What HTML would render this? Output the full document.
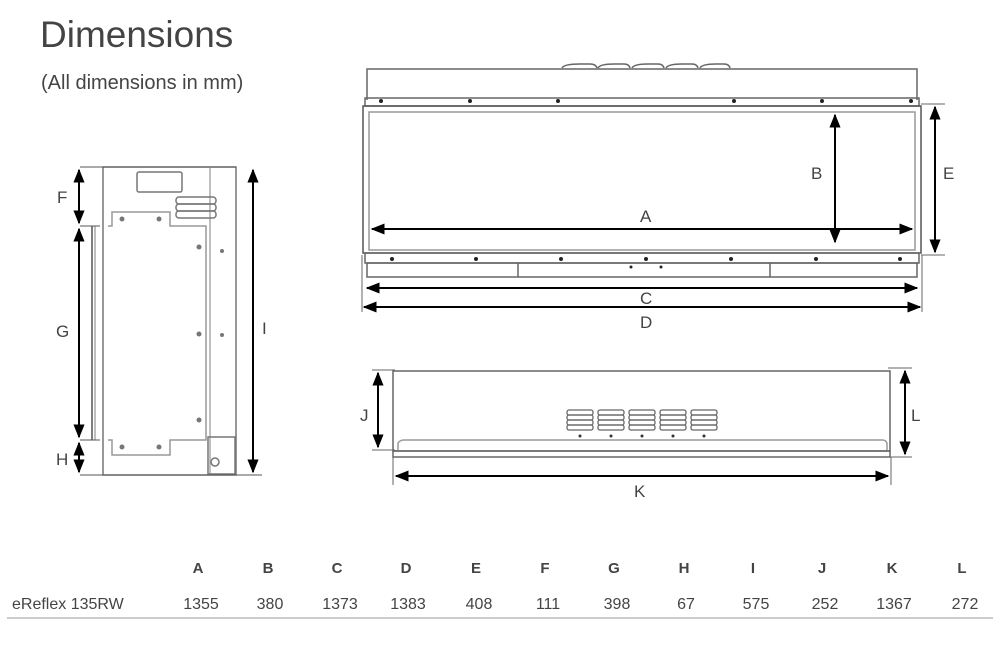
<!DOCTYPE html>
<html><head><meta charset="utf-8"><style>
html,body{margin:0;padding:0;background:#fff;}
svg{display:block}
text{font-family:"Liberation Sans",sans-serif;fill:#444}
</style></head><body>
<svg width="1000" height="651" viewBox="0 0 1000 651" xmlns="http://www.w3.org/2000/svg">
<defs>
<marker id="ar" viewBox="0 0 10 10" refX="9" refY="5" markerWidth="7" markerHeight="7" orient="auto-start-reverse"><path d="M0,1 L10,5 L0,9 z" fill="#000"/></marker>
</defs>
<text x="40" y="47" font-size="37" font-weight="300" fill="#333">Dimensions</text>
<text x="41" y="89" font-size="20" fill="#555">(All dimensions in mm)</text>

<!-- side view -->
<g stroke="#777" fill="none" stroke-width="1.5">
<rect x="103" y="167" width="133" height="308"/>
<line x1="210" y1="167" x2="210" y2="475" stroke="#aaa"/>
<path d="M108,226 L112,226 L112,212 L170,212 L170,226 L206,226 L206,440 L170,440 L170,455 L112,455 L112,440 L108,440" stroke="#999"/>
<line x1="92" y1="226" x2="92" y2="440" stroke="#555"/>
<line x1="95" y1="226" x2="95" y2="440" stroke="#aaa"/>
<rect x="137" y="172" width="45" height="20" rx="2"/>
<rect x="176" y="197" width="40" height="7" rx="3"/>
<rect x="176" y="204" width="40" height="7" rx="3"/>
<rect x="176" y="211" width="40" height="7" rx="3"/>
<rect x="208" y="437" width="27" height="37"/>
<circle cx="215" cy="462" r="4"/>
<line x1="80" y1="167" x2="236" y2="167" stroke="#555" stroke-width="1"/>
<line x1="80" y1="226" x2="100" y2="226" stroke="#555" stroke-width="1"/>
<line x1="80" y1="440" x2="100" y2="440" stroke="#555" stroke-width="1"/>
<line x1="80" y1="475" x2="262" y2="475" stroke="#555" stroke-width="1"/>
</g>
<g fill="#777">
<circle cx="122" cy="219" r="2.5"/><circle cx="159" cy="219" r="2.5"/>
<circle cx="199" cy="247" r="2.5"/><circle cx="222" cy="251" r="2"/>
<circle cx="199" cy="334" r="2.5"/><circle cx="222" cy="335" r="2"/>
<circle cx="199" cy="420" r="2.5"/><circle cx="122" cy="447" r="2.5"/><circle cx="159" cy="447" r="2.5"/>
</g>
<g stroke="#000" stroke-width="2">
<line x1="79" y1="170" x2="79" y2="223" marker-start="url(#ar)" marker-end="url(#ar)"/>
<line x1="79" y1="229" x2="79" y2="437" marker-start="url(#ar)" marker-end="url(#ar)"/>
<line x1="79" y1="443" x2="79" y2="472" marker-start="url(#ar)" marker-end="url(#ar)"/>
<line x1="253" y1="170" x2="253" y2="472" marker-start="url(#ar)" marker-end="url(#ar)"/>
</g>
<g font-size="17"><text x="57" y="203">F</text><text x="56" y="337">G</text><text x="56" y="465">H</text><text x="262" y="334">I</text></g>

<!-- front view -->
<g stroke="#666" fill="none" stroke-width="1.5">
<path d="M367,100 L367,69 L917,69 L917,100"/>
<path d="M562,68 Q564,64 580,64 L590,64 Q596,64 597,68 M598,68 Q600,64 614,64 L624,64 Q629,64 630,68 M632,68 Q634,64 648,64 L658,64 Q663,64 664,68 M666,68 Q668,64 682,64 L692,64 Q697,64 698,68 M700,68 Q702,64 716,64 L724,64 Q729,64 730,68"/>
<rect x="365" y="98" width="554" height="8"/>
<rect x="363" y="106" width="558" height="147" stroke="#555"/>
<rect x="369" y="112" width="546" height="138" stroke="#999"/>
<rect x="365" y="253" width="554" height="10"/>
<rect x="367" y="263" width="550" height="14"/>
<line x1="518" y1="263" x2="518" y2="277"/><line x1="770" y1="263" x2="770" y2="277"/>
<line x1="362" y1="255" x2="362" y2="312" stroke-width="1"/>
<line x1="922" y1="255" x2="922" y2="312" stroke-width="1"/>
<line x1="921" y1="104" x2="945" y2="104" stroke-width="1"/>
<line x1="921" y1="255" x2="945" y2="255" stroke-width="1"/>
</g>
<g fill="#222">
<circle cx="381" cy="101" r="2"/><circle cx="470" cy="101" r="2"/><circle cx="558" cy="101" r="2"/><circle cx="734" cy="101" r="2"/><circle cx="822" cy="101" r="2"/><circle cx="911" cy="101" r="2"/>
<circle cx="392" cy="259" r="2"/><circle cx="476" cy="259" r="2"/><circle cx="561" cy="259" r="2"/><circle cx="646" cy="259" r="2"/><circle cx="731" cy="259" r="2"/><circle cx="816" cy="259" r="2"/><circle cx="900" cy="259" r="2"/>
<circle cx="631" cy="267" r="1.5"/><circle cx="661" cy="267" r="1.5"/>
</g>
<g stroke="#000" stroke-width="2">
<line x1="372" y1="229" x2="912" y2="229" marker-start="url(#ar)" marker-end="url(#ar)"/>
<line x1="835" y1="115" x2="835" y2="242" marker-start="url(#ar)" marker-end="url(#ar)"/>
<line x1="935" y1="107" x2="935" y2="252" marker-start="url(#ar)" marker-end="url(#ar)"/>
<line x1="367" y1="288" x2="917" y2="288" marker-start="url(#ar)" marker-end="url(#ar)"/>
<line x1="364" y1="307" x2="920" y2="307" marker-start="url(#ar)" marker-end="url(#ar)"/>
</g>
<g font-size="17"><text x="640" y="222">A</text><text x="811" y="179">B</text><text x="943" y="179">E</text><text x="640" y="304">C</text><text x="640" y="328">D</text></g>

<!-- bottom view -->
<g stroke="#666" fill="none" stroke-width="1.5">
<rect x="393" y="371" width="497" height="80"/>
<path d="M398,450 L398,443 Q400,440 404,440 L882,440 Q886,440 887,443 L887,450" stroke="#999"/>
<rect x="393" y="451" width="497" height="6"/>
<line x1="372" y1="370" x2="395" y2="370" stroke-width="1"/>
<line x1="372" y1="450" x2="395" y2="450" stroke-width="1"/>
<line x1="888" y1="368" x2="912" y2="368" stroke-width="1"/>
<line x1="888" y1="457" x2="912" y2="457" stroke-width="1"/>
<line x1="393" y1="457" x2="393" y2="485" stroke-width="1"/>
<line x1="891" y1="457" x2="891" y2="485" stroke-width="1"/>
</g>
<g stroke="#666" fill="none" stroke-width="1.3">
<g id="v"><rect x="567" y="410" width="26" height="5" rx="2"/><rect x="567" y="415" width="26" height="5" rx="2"/><rect x="567" y="420" width="26" height="5" rx="2"/><rect x="567" y="425" width="26" height="5" rx="2"/></g>
<use href="#v" x="31"/><use href="#v" x="62"/><use href="#v" x="93"/><use href="#v" x="124"/>
</g>
<g fill="#333"><circle cx="580" cy="436" r="1.5"/><circle cx="611" cy="436" r="1.5"/><circle cx="642" cy="436" r="1.5"/><circle cx="673" cy="436" r="1.5"/><circle cx="704" cy="436" r="1.5"/></g>
<g stroke="#000" stroke-width="2">
<line x1="378" y1="373" x2="378" y2="447" marker-start="url(#ar)" marker-end="url(#ar)"/>
<line x1="905" y1="371" x2="905" y2="454" marker-start="url(#ar)" marker-end="url(#ar)"/>
<line x1="396" y1="476" x2="888" y2="476" marker-start="url(#ar)" marker-end="url(#ar)"/>
</g>
<g font-size="17"><text x="360" y="421">J</text><text x="911" y="421">L</text><text x="634" y="497">K</text></g>

<!-- table -->
<g font-size="15" font-weight="bold" fill="#444" text-anchor="middle">
<text x="198" y="573">A</text><text x="268" y="573">B</text><text x="337" y="573">C</text><text x="406" y="573">D</text><text x="476" y="573">E</text><text x="545" y="573">F</text><text x="614" y="573">G</text><text x="684" y="573">H</text><text x="753" y="573">I</text><text x="822" y="573">J</text><text x="892" y="573">K</text><text x="962" y="573">L</text>
</g>
<g font-size="16" fill="#444" text-anchor="middle">
<text x="12" y="609" text-anchor="start">eReflex 135RW</text>
<text x="201" y="609">1355</text><text x="270" y="609">380</text><text x="340" y="609">1373</text><text x="408" y="609">1383</text><text x="479" y="609">408</text><text x="548" y="609">111</text><text x="617" y="609">398</text><text x="686" y="609">67</text><text x="756" y="609">575</text><text x="825" y="609">252</text><text x="894" y="609">1367</text><text x="965" y="609">272</text>
</g>
<line x1="7" y1="618" x2="993" y2="618" stroke="#bbb" stroke-width="1.5"/>
</svg>
</body></html>
